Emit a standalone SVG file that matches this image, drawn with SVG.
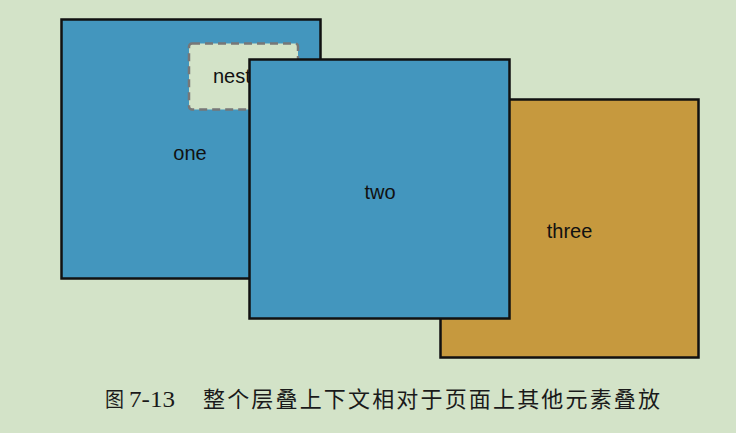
<svg xmlns="http://www.w3.org/2000/svg" width="736" height="433" viewBox="0 0 736 433">
<style>
.box{stroke:#111;stroke-width:2.5}
.blue{fill:#4396be}
.gold{fill:#c6993e}
.lbl{font-family:"Liberation Sans",Arial,sans-serif;font-size:20px;fill:#111;text-anchor:middle}
.cap{font-family:"Liberation Serif","Noto Sans CJK SC",serif;fill:#1a1a1a}
</style>
<rect width="736" height="433" fill="#d3e3c8"/>
<g id="one">
<rect class="box blue" x="61.5" y="19.5" width="259" height="259"/>
<text class="lbl" x="190" y="160">one</text>
</g>
<g id="nested">
<rect x="189" y="43.5" width="109" height="66" rx="3" fill="#d3e3c8" stroke="#777" stroke-width="2.5" stroke-dasharray="8,5"/>
<text class="lbl" x="243" y="83">nested</text>
</g>
<g id="three">
<rect class="box gold" x="440.5" y="99.5" width="258" height="258"/>
<text class="lbl" x="569.5" y="238">three</text>
</g>
<g id="two">
<rect class="box blue" x="249.5" y="59.5" width="260" height="259"/>
<text class="lbl" x="380" y="199">two</text>
</g>
<g id="connectors"></g>
<text class="cap" x="105" y="407" font-size="20" textLength="19" lengthAdjust="spacingAndGlyphs">图</text>
<text class="cap" x="129" y="407" font-size="23" textLength="46" lengthAdjust="spacingAndGlyphs">7-13</text>
<text class="cap" x="203" y="407" font-size="22" textLength="457" lengthAdjust="spacing">整个层叠上下文相对于页面上其他元素叠放</text>
</svg>
